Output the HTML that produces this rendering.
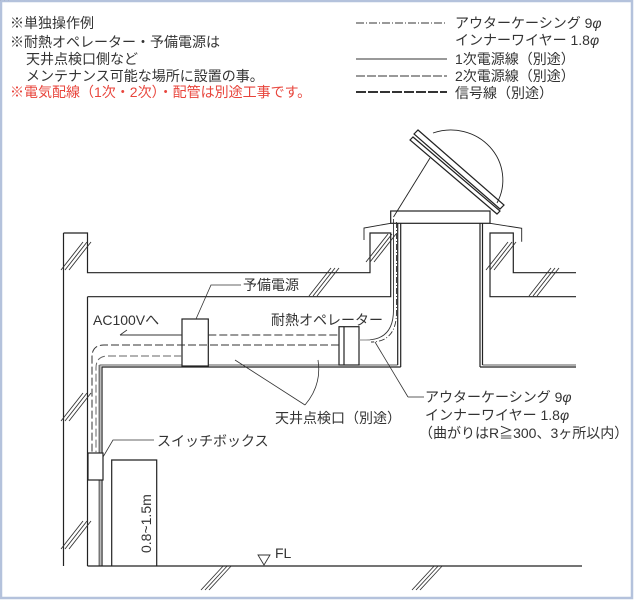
<!DOCTYPE html>
<html><head><meta charset="utf-8"><style>
html,body{margin:0;padding:0;background:#fff}
svg{display:block}
text{font-family:"Liberation Sans","Noto Sans CJK JP",sans-serif;fill:#333;font-size:14px}
</style></head><body>
<svg width="634" height="600" viewBox="0 0 634 600" xmlns="http://www.w3.org/2000/svg">
<rect x="1" y="1" width="631" height="597" fill="#fff" stroke="#b4c2dc" stroke-width="2.5"/>
<g>
<text x="10" y="28">※単独操作例</text>
<text x="10" y="47">※耐熱オペレーター・予備電源は</text>
<text x="26" y="64">天井点検口側など</text>
<text x="26" y="81">メンテナンス可能な場所に設置の事。</text>
<text x="10" y="97" style="fill:#e8453c">※電気配線（1次・2次）・配管は別途工事です。</text>
<text x="455" y="28">アウターケーシング 9<tspan font-style="italic">φ</tspan></text>
<text x="455" y="45">インナーワイヤー 1.8<tspan font-style="italic">φ</tspan></text>
<text x="455" y="64">1次電源線（別途）</text>
<text x="455" y="81">2次電源線（別途）</text>
<text x="455" y="98">信号線（別途）</text>
</g>
<g stroke="#333" fill="none">
<line x1="356" y1="23" x2="447" y2="23" stroke-width="1" stroke-dasharray="8,2,1,2"/>
<line x1="356" y1="59" x2="447" y2="59" stroke-width="1"/>
<line x1="356" y1="76" x2="447" y2="76" stroke-width="1" stroke-dasharray="9,2"/>
<line x1="356" y1="92" x2="447" y2="92" stroke-width="2" stroke-dasharray="10,2"/>
</g>
<g stroke="#222" stroke-width="1.2" fill="none">
<line x1="63.5" y1="233" x2="63.5" y2="566"/>
<polyline points="63.5,233 87.5,233 87.5,272.7 370,272.7 370,233 390.7,233 390.7,296.7 87.5,296.7"/>
<line x1="87.5" y1="296.7" x2="87.5" y2="566"/>
<line x1="397.7" y1="223" x2="397.7" y2="365"/>
<line x1="400.7" y1="223" x2="400.7" y2="367"/>
<polyline points="400.7,367 102,367 102,566"/>
<polyline points="397.7,365 99.5,365" stroke-width="0.8"/>
<line x1="99.5" y1="365" x2="99.5" y2="566" stroke="#777" stroke-width="2"/>
<line x1="480" y1="223" x2="480" y2="367"/>
<line x1="482.5" y1="223" x2="482.5" y2="365"/>
<polyline points="480,367 576,367"/>
<polyline points="482.5,365 576,365" stroke-width="0.8"/>
<polyline points="576,272.7 513.3,272.7 513.3,233 490,233 490,296.7 576,296.7"/>
<rect x="390.7" y="211" width="99.3" height="12.3"/>
<polyline points="364,240 364,228 390.7,223.3" stroke-width="0.9"/>
<polyline points="521.7,241.7 521.7,228.3 490,223.3" stroke-width="0.9"/>
<polygon points="414,134 418,130 504,205 500,209"/>
<polygon points="410,140 413,137 500,211 497,214"/>
<path d="M433,133 A52,50 0 0 1 497,203" stroke-width="0.9"/>
<line x1="430" y1="158" x2="393.5" y2="217" stroke-width="0.9"/>
<line x1="87.5" y1="566" x2="582" y2="566"/>
<rect x="88" y="453" width="15" height="27" fill="#fff"/>
<polyline points="111.7,566 111.7,460 156.7,460 156.7,566"/>
<rect x="182" y="319" width="26.3" height="47" fill="#fff"/>
<rect x="339" y="326.7" width="20" height="38.3" fill="#fff"/>
<line x1="344" y1="326.7" x2="344" y2="365"/>
</g>
<g stroke="#333" stroke-width="0.9">
<g id="h"><line x1="0" y1="0" x2="22" y2="-28"/><line x1="4" y1="0" x2="26" y2="-28"/><line x1="8" y1="0" x2="30" y2="-28"/></g>
<use href="#h" transform="translate(61,270)"/>
<use href="#h" transform="translate(61,421) "/>
<use href="#h" transform="translate(61,549)"/>
<use href="#h" transform="translate(309,296)"/>
<use href="#h" transform="translate(366,262)"/>
<use href="#h" transform="translate(486,270)"/>
<use href="#h" transform="translate(529,296)"/>
<use href="#h" transform="translate(201,590) scale(1,0.85)"/>
<use href="#h" transform="translate(412,590) scale(1,0.85)"/>
</g>
<g fill="none" stroke="#333">
<path d="M208.3,335 H339" stroke-dasharray="8,3"/>
<path d="M339,345 H104 Q92,345 92,357 V453" stroke-dasharray="8,3"/>
<path d="M182,356 H108 Q96,356 96,368 V453" stroke-dasharray="8,3" stroke="#666"/>
<line x1="182" y1="335" x2="120" y2="335"/>
<line x1="120" y1="335" x2="127" y2="330" stroke-width="0.8"/>
<path d="M393.5,219 V310 Q393.5,340 366,340" stroke-width="0.9"/>
<path d="M396.5,222 V312 Q396.5,342 371,342" stroke-width="0.9" stroke-dasharray="6,2,1,2"/>
<line x1="359" y1="340" x2="370" y2="340" stroke="#888"/>
<polyline points="408,397 424,397" stroke-width="0.8"/>
<line x1="375" y1="342" x2="408" y2="397" stroke-width="0.8"/>
<polyline points="196,319 211,285 241,285" stroke-width="0.8"/>
<polyline points="235,360 305,405" stroke-width="0.8"/>
<path d="M318,360 Q322,385 305,405" stroke-width="0.8"/>
<polyline points="103,457 113,440 154,440" stroke-width="0.8"/>
<polygon points="258,555 270,555 264,565" stroke-width="0.9"/>
</g>
<text x="243" y="290">予備電源</text>
<text x="93" y="325">AC100Vへ</text>
<text x="271" y="325">耐熱オペレーター</text>
<text x="275" y="423">天井点検口（別途）</text>
<text x="425" y="402">アウターケーシング 9<tspan font-style="italic">φ</tspan></text>
<text x="425" y="420">インナーワイヤー 1.8<tspan font-style="italic">φ</tspan></text>
<text x="419" y="438">（曲がりはR≧300、3ヶ所以内）</text>
<text x="157" y="446">スイッチボックス</text>
<text x="275" y="558">FL</text>
<text transform="translate(151,553) rotate(-90)">0.8~1.5m</text>
</svg>
</body></html>
